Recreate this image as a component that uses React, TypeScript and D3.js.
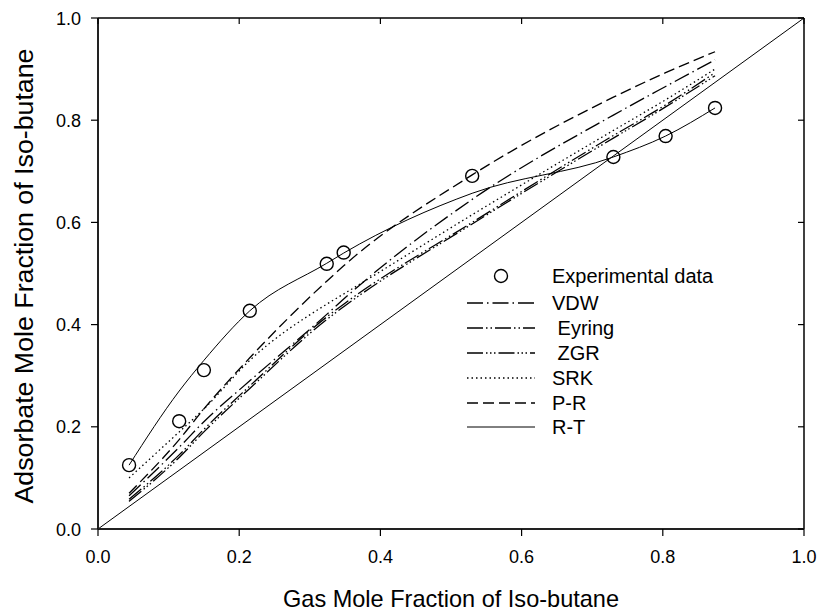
import React from "react";
import * as d3 from "d3";

const W = 820;
const H = 613;

const ticks = [0, 0.2, 0.4, 0.6, 0.8, 1.0];

const xExp = [0.044, 0.115, 0.15, 0.215, 0.324, 0.348, 0.53, 0.73, 0.804, 0.874];
const yExp = [0.125, 0.211, 0.311, 0.427, 0.519, 0.541, 0.691, 0.728, 0.769, 0.824];

const xModel = [0.044, 0.115, 0.15, 0.215, 0.324, 0.348, 0.53, 0.73, 0.804, 0.874];
const yVDW = [0.065, 0.16, 0.21, 0.29, 0.42, 0.45, 0.645, 0.81, 0.866, 0.918];
const yEyring = [0.058, 0.145, 0.195, 0.28, 0.415, 0.44, 0.6, 0.77, 0.83, 0.893];
const yZGR = [0.054, 0.14, 0.19, 0.275, 0.41, 0.435, 0.597, 0.765, 0.826, 0.887];
const ySRK = [0.1, 0.19, 0.235, 0.33, 0.44, 0.46, 0.615, 0.78, 0.84, 0.9];
const yPR = [0.07, 0.175, 0.235, 0.335, 0.485, 0.515, 0.693, 0.845, 0.893, 0.934];
const yRT = [0.125, 0.27, 0.33, 0.427, 0.52, 0.54, 0.657, 0.728, 0.769, 0.824];

const seriesNames = ["VDW", " Eyring", " ZGR", "SRK", "P-R", "R-T"];
const seriesValues = [yVDW, yEyring, yZGR, ySRK, yPR, yRT];
const seriesDash = ["16,4,1.5,4", "16,3,1.5,3,1.5,3", "16,3,1.5,2.5,1.5,2.5,1.5,3", "1.5,3", "11,5", ""];

const font = "'Liberation Sans', Arial, sans-serif";

export default function App() {
  const x = d3.scaleLinear().domain([0, 1]).range([98, 804]);
  const y = d3.scaleLinear().domain([0, 1]).range([529, 18]);
  const fmt = d3.format(".1f");
  const line = d3
    .line<number>()
    .x((_, i) => x(xModel[i]))
    .y((d) => y(d))
    .curve(d3.curveMonotoneX);

  const legendX0 = 467;
  const legendX1 = 535;
  const legendTextX = 552;
  const legendRows = [276, 303, 328, 353, 378, 403, 427];

  return (
    <svg
      width={W}
      height={H}
      style={{ position: "absolute", left: 0, top: 0, background: "#fff" }}
      fontFamily={font}
    >
      <rect x={0} y={0} width={W} height={H} fill="#fff" />
      {/* diagonal */}
      <line x1={x(0)} y1={y(0)} x2={x(1)} y2={y(1)} stroke="#000" strokeWidth={1} />
      {/* model curves */}
      {seriesValues.map((vals, k) => (
        <path
          key={k}
          d={line(vals) || ""}
          fill="none"
          stroke="#000"
          strokeWidth={k === 5 ? 1 : 1.3}
          strokeDasharray={seriesDash[k] || undefined}
        />
      ))}
      {/* experimental points */}
      {xExp.map((xv, i) => (
        <circle key={i} cx={x(xv)} cy={y(yExp[i])} r={6.5} fill="none" stroke="#000" strokeWidth={1.4} />
      ))}
      {/* frame */}
      <line x1={x(0)} y1={y(1)} x2={x(1)} y2={y(1)} stroke="#000" strokeWidth={1.5} />
      <line x1={x(1)} y1={y(0)} x2={x(1)} y2={y(1)} stroke="#000" strokeWidth={1.5} />
      <line x1={x(0)} y1={y(0)} x2={x(1)} y2={y(0)} stroke="#222" strokeWidth={2} />
      <line x1={x(0)} y1={y(0)} x2={x(0)} y2={y(1)} stroke="#222" strokeWidth={2} />
      {/* ticks */}
      {ticks.map((t) => (
        <g key={"t" + t}>
          <line x1={x(t)} y1={y(0)} x2={x(t)} y2={y(0) + 7} stroke="#000" strokeWidth={1.2} />
          <line x1={x(0) - 7} y1={y(t)} x2={x(0)} y2={y(t)} stroke="#000" strokeWidth={1.2} />
          <line x1={x(t)} y1={y(1)} x2={x(t)} y2={y(1) + 6} stroke="#000" strokeWidth={1.2} />
          <line x1={x(1) - 6} y1={y(t)} x2={x(1)} y2={y(t)} stroke="#000" strokeWidth={1.2} />
          <text x={x(t)} y={y(0) + 34} textAnchor="middle" fontSize={18}>
            {fmt(t)}
          </text>
          <text x={x(0) - 17} y={y(t) + 6.5} textAnchor="end" fontSize={18}>
            {fmt(t)}
          </text>
        </g>
      ))}
      {/* axis titles */}
      <text x={451} y={607} textAnchor="middle" fontSize={24} textLength={336} lengthAdjust="spacingAndGlyphs">
        Gas Mole Fraction of Iso-butane
      </text>
      <text
        transform={`translate(33, 276) rotate(-90)`}
        textAnchor="middle"
        fontSize={25}
        textLength={455}
        lengthAdjust="spacingAndGlyphs"
      >
        Adsorbate Mole Fraction of Iso-butane
      </text>
      {/* legend */}
      <circle cx={501} cy={legendRows[0]} r={6.5} fill="none" stroke="#000" strokeWidth={1.4} />
      <text x={legendTextX} y={legendRows[0] + 7} fontSize={20}>
        Experimental data
      </text>
      {seriesNames.map((name, k) => (
        <g key={"l" + k}>
          <line
            x1={legendX0}
            x2={legendX1}
            y1={legendRows[k + 1]}
            y2={legendRows[k + 1]}
            stroke="#000"
            strokeWidth={k === 5 ? 1 : 1.3}
            strokeDasharray={seriesDash[k] || undefined}
          />
          <text x={legendTextX} y={legendRows[k + 1] + 7} fontSize={20} style={{ whiteSpace: "pre" }}>
            {name}
          </text>
        </g>
      ))}
    </svg>
  );
}
